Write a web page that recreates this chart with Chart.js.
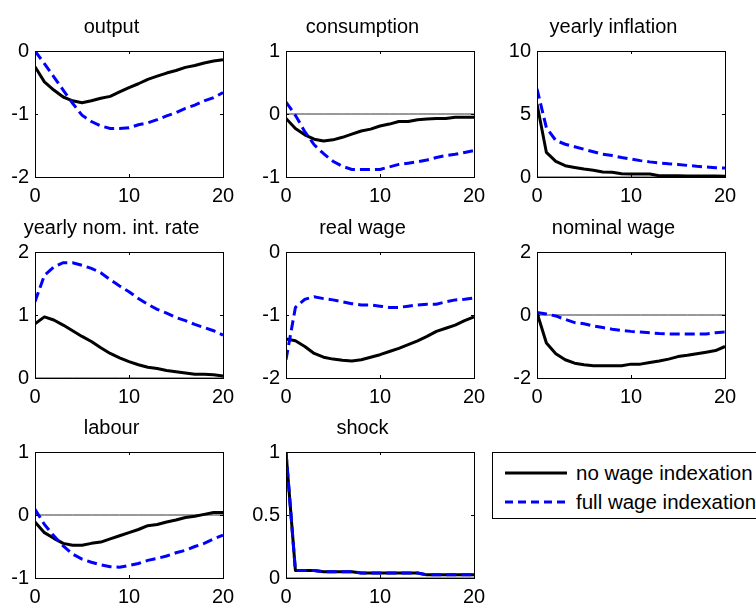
<!DOCTYPE html>
<html>
<head>
<meta charset="utf-8">
<script src="https://cdn.jsdelivr.net/npm/chart.js@4.4.1/dist/chart.umd.min.js"></script>
<style>
  html, body { margin: 0; padding: 0; background: #fff; }
  body { width: 756px; height: 603px; position: relative; overflow: hidden;
         font-family: "Liberation Sans", Arial, sans-serif; }
  .panel { position: absolute; width: 250px; height: 215px; }
  #legend { position: absolute; left: 492px; top: 452px; width: 280px; height: 65px;
            border: 1px solid #000; background: #fff; font-size: 20.5px; }
  #legend .row { position: absolute; left: 12px; height: 24px; display: flex; align-items: center; white-space: nowrap; }
  #legend svg { margin-right: 9px; }
</style>
</head>
<body>

<div id="legend"></div>

<script>
// horizon (quarters)
var periods = [0,1,2,3,4,5,6,7,8,9,10,11,12,13,14,15,16,17,18,19,20];

var seriesLabels = ["no wage indexation", "full wage indexation"];

var outputNo   = [-0.25,-0.49,-0.62,-0.73,-0.79,-0.82,-0.79,-0.75,-0.72,-0.65,-0.58,-0.52,-0.45,-0.40,-0.35,-0.31,-0.26,-0.23,-0.19,-0.16,-0.14];
var outputFull = [0,-0.20,-0.41,-0.62,-0.83,-1.02,-1.12,-1.19,-1.23,-1.23,-1.22,-1.17,-1.14,-1.09,-1.03,-0.98,-0.91,-0.86,-0.79,-0.74,-0.66];

var consNo   = [-0.07,-0.23,-0.33,-0.40,-0.43,-0.41,-0.37,-0.32,-0.27,-0.24,-0.19,-0.16,-0.12,-0.12,-0.09,-0.08,-0.07,-0.07,-0.05,-0.05,-0.05];
var consFull = [0.19,-0.02,-0.28,-0.49,-0.63,-0.75,-0.83,-0.88,-0.88,-0.88,-0.88,-0.84,-0.80,-0.78,-0.76,-0.73,-0.69,-0.66,-0.64,-0.61,-0.58];

var inflNo   = [5.8,1.95,1.24,0.90,0.76,0.63,0.53,0.40,0.37,0.26,0.24,0.24,0.24,0.10,0.10,0.09,0.08,0.08,0.07,0.07,0.06];
var inflFull = [7.0,3.9,2.9,2.6,2.4,2.2,2.0,1.8,1.7,1.55,1.42,1.30,1.20,1.12,1.05,1.00,0.92,0.85,0.80,0.74,0.71];

var rateNo   = [0.86,0.97,0.92,0.84,0.75,0.66,0.58,0.48,0.39,0.32,0.26,0.21,0.17,0.15,0.12,0.10,0.08,0.06,0.06,0.05,0.03];
var rateFull = [1.21,1.63,1.76,1.83,1.83,1.79,1.74,1.67,1.56,1.46,1.37,1.26,1.17,1.09,1.03,0.96,0.91,0.85,0.80,0.75,0.68];

var realNo   = [-1.38,-1.41,-1.50,-1.61,-1.67,-1.70,-1.72,-1.73,-1.71,-1.67,-1.63,-1.58,-1.53,-1.47,-1.41,-1.34,-1.26,-1.21,-1.16,-1.09,-1.03];
var realFull = [-1.71,-0.88,-0.75,-0.71,-0.74,-0.76,-0.79,-0.82,-0.84,-0.84,-0.86,-0.88,-0.88,-0.86,-0.84,-0.83,-0.83,-0.79,-0.76,-0.75,-0.73];

var nomNo   = [0.07,-0.89,-1.23,-1.42,-1.53,-1.58,-1.61,-1.61,-1.61,-1.61,-1.56,-1.56,-1.51,-1.46,-1.40,-1.32,-1.28,-1.23,-1.18,-1.13,-1.00];
var nomFull = [0.08,0.03,-0.03,-0.14,-0.24,-0.28,-0.35,-0.40,-0.45,-0.49,-0.52,-0.54,-0.56,-0.59,-0.60,-0.60,-0.60,-0.60,-0.60,-0.56,-0.54];

var labNo   = [-0.11,-0.28,-0.37,-0.45,-0.48,-0.48,-0.45,-0.43,-0.38,-0.33,-0.28,-0.23,-0.17,-0.15,-0.11,-0.08,-0.04,-0.02,0.01,0.04,0.04];
var labFull = [0.09,-0.15,-0.33,-0.49,-0.62,-0.70,-0.75,-0.79,-0.82,-0.83,-0.80,-0.77,-0.72,-0.69,-0.65,-0.60,-0.56,-0.50,-0.45,-0.38,-0.32];

var shockNo   = [1,0.06,0.06,0.06,0.05,0.05,0.05,0.05,0.04,0.04,0.04,0.04,0.04,0.04,0.04,0.025,0.025,0.025,0.025,0.025,0.025];
var shockFull = [1,0.06,0.06,0.06,0.05,0.05,0.05,0.05,0.04,0.04,0.04,0.04,0.04,0.04,0.04,0.025,0.025,0.025,0.025,0.025,0.025];

var zeros = [0,0,0,0,0,0,0,0,0,0,0,0,0,0,0,0,0,0,0,0,0];

// title, no-indexation, full-indexation, y min, y max, y step
var panels = [
    ["output", outputNo, outputFull, -2, 0, 1],
    ["consumption", consNo, consFull, -1, 1, 1],
    ["yearly inflation", inflNo, inflFull, 0, 10, 5],
    ["yearly nom. int. rate", rateNo, rateFull, 0, 2, 1],
    ["real wage", realNo, realFull, -2, 0, 1],
    ["nominal wage", nomNo, nomFull, -2, 2, 2],
    ["labour", labNo, labFull, -1, 1, 1],
    ["shock", shockNo, shockFull, 0, 1, 0.5]
];

var colLeft = [0, 251, 502];
var rowTop = [0, 201, 401];
var font = "'Liberation Sans', Arial, sans-serif";

var points = function(vals) {
    var out = [];
    for (var i = 0; i < periods.length; i++) {
        out.push({x: periods[i], y: vals[i]});
    }
    return out;
};

// matlab-style box with inward ticks on all four sides
var boxPlugin = {
    id: 'box',
    afterDraw: function(chart) {
        var ctx = chart.ctx, a = chart.chartArea;
        var xs = chart.scales.x, ys = chart.scales.y;
        var len = 3;
        ctx.save();
        ctx.strokeStyle = '#000';
        ctx.lineWidth = 1;
        ctx.beginPath();
        xs.ticks.forEach(function(t) {
            var px = Math.round(xs.getPixelForValue(t.value)) + 0.5;
            ctx.moveTo(px, a.bottom); ctx.lineTo(px, a.bottom - len);
            ctx.moveTo(px, a.top); ctx.lineTo(px, a.top + len);
        });
        ys.ticks.forEach(function(t) {
            var py = Math.round(ys.getPixelForValue(t.value)) + 0.5;
            ctx.moveTo(a.left, py); ctx.lineTo(a.left + len, py);
            ctx.moveTo(a.right, py); ctx.lineTo(a.right - len, py);
        });
        ctx.stroke();
        ctx.strokeRect(Math.round(a.left) + 0.5, Math.round(a.top) + 0.5,
                       Math.round(a.right - a.left), Math.round(a.bottom - a.top));
        ctx.restore();
    }
};

panels.forEach(function(p, i) {
    var cv = document.createElement('canvas');
    cv.className = 'panel';
    cv.width = 250; cv.height = 215;
    cv.style.left = colLeft[i % 3] + 'px';
    cv.style.top = rowTop[Math.floor(i / 3)] + 'px';
    document.body.appendChild(cv);

    new Chart(cv, {
        type: 'line',
        data: {
            datasets: [
                { label: 'zero', data: points(zeros), borderColor: '#333', borderWidth: 1,
                  pointRadius: 0, order: 3 },
                { label: seriesLabels[0], data: points(p[1]), borderColor: '#000', borderWidth: 3,
                  pointRadius: 0, borderJoinStyle: 'round', order: 2 },
                { label: seriesLabels[1], data: points(p[2]), borderColor: '#0000ff', borderWidth: 3,
                  borderDash: [10, 5], pointRadius: 0, order: 1 }
            ]
        },
        options: {
            responsive: false,
            animation: false,
            events: [],
            layout: { padding: { left: 0, right: 27, top: 0, bottom: 0 } },
            plugins: {
                legend: { display: false },
                tooltip: { enabled: false },
                title: {
                    display: true, text: p[0], color: '#000',
                    font: { family: font, size: 20, weight: 'normal', lineHeight: 1.2 },
                    padding: { top: 15, bottom: 12 }
                }
            },
            scales: {
                x: {
                    type: 'linear', min: 0, max: 20,
                    grid: { display: false, drawTicks: false },
                    border: { display: false },
                    ticks: { stepSize: 10, color: '#000', padding: 7, maxRotation: 0,
                             font: { family: font, size: 20 } },
                    afterFit: function(s) { s.height = 38; }
                },
                y: {
                    min: p[3], max: p[4],
                    grid: { display: false, drawTicks: false },
                    border: { display: false },
                    ticks: { stepSize: p[5], color: '#000', padding: 6,
                             font: { family: font, size: 20 },
                             callback: function(v) { return String(v); } },
                    afterFit: function(s) { s.width = 35; }
                }
            }
        },
        plugins: [boxPlugin]
    });
});

// legend box, built from the series labels
var legend = document.getElementById('legend');
var styles = [
    '<line x1="0" y1="5" x2="62" y2="5" stroke="#000" stroke-width="3"/>',
    '<line x1="0" y1="5" x2="62" y2="5" stroke="#0000ff" stroke-width="3" stroke-dasharray="8,5"/>'
];
seriesLabels.forEach(function(lbl, i) {
    var row = document.createElement('div');
    row.className = 'row';
    row.style.top = (8 + i * 29) + 'px';
    row.innerHTML = '<svg width="62" height="10">' + styles[i] + '</svg><span>' + lbl + '</span>';
    legend.appendChild(row);
});
</script>
</body>
</html>
